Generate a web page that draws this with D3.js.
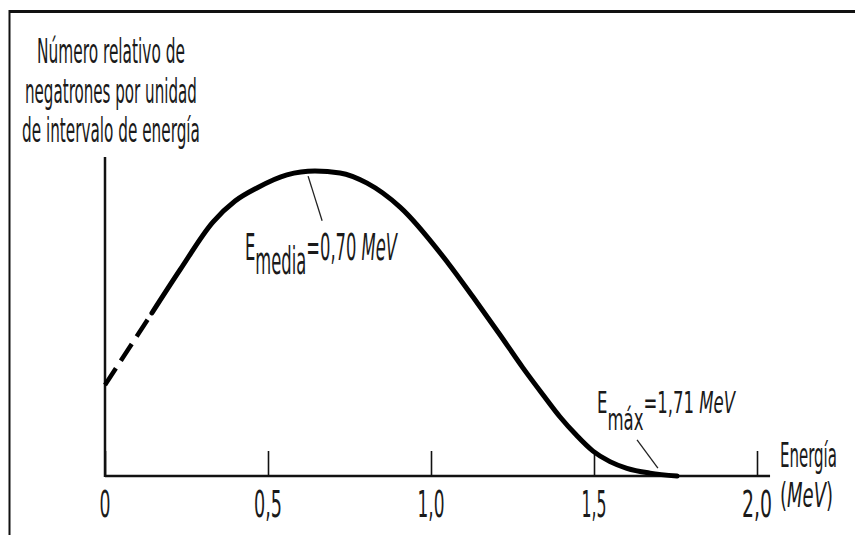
<!DOCTYPE html>
<html>
<head>
<meta charset="utf-8">
<script src="https://cdn.jsdelivr.net/npm/d3@7"></script>
<style>
  html, body { margin: 0; padding: 0; background: #fff; }
  svg { display: block; }
  text { font-family: 'DejaVu Sans Condensed', 'DejaVu Sans', sans-serif; fill: #1a1a1a; }
</style>
</head>
<body>
<div id="chart"></div>
<script>
// Beta spectrum (negatrons): energy in MeV vs relative number per unit energy
const energy   = [0, 0.144, 0.230, 0.331, 0.399, 0.466, 0.558, 0.644, 0.721, 0.804, 0.905, 1.052, 1.129, 1.212, 1.282, 1.344, 1.396, 1.445, 1.497, 1.549, 1.601, 1.672, 1.755];
const relCount = [0.285, 0.511, 0.646, 0.796, 0.862, 0.903, 0.944, 0.956, 0.950, 0.918, 0.843, 0.668, 0.561, 0.442, 0.339, 0.254, 0.185, 0.129, 0.078, 0.045, 0.024, 0.009, 0.0];
const dashedUntil = 0.144;   // low-energy part drawn dashed

const tickValues = [0, 0.5, 1.0, 1.5, 2.0];
const tickLabels = ['0', '0,5', '1,0', '1,5', '2,0'];
const titleLines = ['Número relativo de', 'negatrones por unidad', 'de intervalo de energía'];

const width = 855, height = 535;

const svg = d3.select('#chart')
    .append('svg')
    .attr('width', width)
    .attr('height', height);

// frame (top and left edges visible)
svg.append('line').attr('x1', 9).attr('y1', 11.5).attr('x2', width).attr('y2', 11.5)
    .attr('stroke', '#111').attr('stroke-width', 3);
svg.append('line').attr('x1', 9.5).attr('y1', 10).attr('x2', 9.5).attr('y2', height)
    .attr('stroke', '#111').attr('stroke-width', 2);

const x = d3.scaleLinear().domain([0, 2]).range([105, 757]);
const y = d3.scaleLinear().domain([0, 1]).range([476, 157]);

// helper: text squeezed horizontally to a measured width (condensed look)
// parts: array of [string, {dy, italic}]
function label(px, py, parts, w, size, anchor = 'start') {
    if (typeof parts === 'string') parts = [[parts, {}]];
    const t = svg.append('text')
        .attr('font-size', size)
        .attr('x', 0).attr('y', 0);
    parts.forEach(([s, o]) => {
        const ts = t.append('tspan').text(s);
        if (o.dy) ts.attr('dy', o.dy);
        if (o.italic) ts.attr('font-style', 'italic');
    });
    const len = t.node().getComputedTextLength();
    const sx = w / len;
    const left = anchor === 'middle' ? px - w / 2 : px;
    t.attr('transform', `translate(${left},${py}) scale(${sx},1)`);
    return t;
}

// x axis: ticks pointing up
const xAxis = d3.axisBottom(x)
    .tickValues(tickValues)
    .tickSizeInner(-25)
    .tickSizeOuter(0)
    .tickFormat('');
const gx = svg.append('g').attr('transform', `translate(0,${y(0)})`).call(xAxis);
gx.select('.domain').remove();
gx.selectAll('.tick line').attr('stroke', '#111').attr('stroke-width', 1.6);

svg.append('line')
    .attr('x1', x(0)).attr('x2', x(2.04))
    .attr('y1', y(0)).attr('y2', y(0))
    .attr('stroke', '#111').attr('stroke-width', 2.5);

// y axis: plain line
svg.append('line')
    .attr('x1', x(0)).attr('x2', x(0))
    .attr('y1', y(0) + 1).attr('y2', y(1))
    .attr('stroke', '#111').attr('stroke-width', 2.5);

// tick labels
const labelWidths = [11, 28, 27, 25, 30];
tickValues.forEach((v, i) => {
    label(x(v), 517, tickLabels[i], labelWidths[i], 37, 'middle');
});

// y title
const titleWidths = [148, 172, 178];
titleLines.forEach((s, i) => {
    label(111, 63 + i * 39.5, s, titleWidths[i], 34, 'middle');
});

// x title
label(780, 467, 'Energía', 57, 34);
label(780, 507, [['(', {}], ['MeV', { italic: true }], [')', {}]], 53, 34);

// curve
const pts = energy.map((e, i) => [e, relCount[i]]);
const line = d3.line()
    .x(d => x(d[0]))
    .y(d => y(d[1]))
    .curve(d3.curveMonotoneX);

svg.append('path')
    .datum(pts.filter(d => d[0] <= dashedUntil))
    .attr('d', line)
    .attr('fill', 'none')
    .attr('stroke', '#000')
    .attr('stroke-width', 4.5)
    .attr('stroke-dasharray', '20 9');

svg.append('path')
    .datum(pts.filter(d => d[0] >= dashedUntil))
    .attr('d', line)
    .attr('fill', 'none')
    .attr('stroke', '#000')
    .attr('stroke-width', 5)
    .attr('stroke-linecap', 'round');

// annotations
const leaders = [
    [[0.623, 0.94], [0.666, 0.80]],
    [[1.632, 0.113], [1.696, 0.025]]
];
leaders.forEach(l => {
    svg.append('line')
        .attr('x1', x(l[0][0])).attr('y1', y(l[0][1]))
        .attr('x2', x(l[1][0])).attr('y2', y(l[1][1]))
        .attr('stroke', '#222').attr('stroke-width', 1.3);
});

// E_media = 0,70 MeV
label(245, 260, [['E', {}], ['media', { dy: 14 }], ['=0,70 ', { dy: -14 }], ['MeV', { italic: true }]], 152, 37);

// E_max = 1,71 MeV
label(597, 413, [['E', {}], ['máx', { dy: 17 }], ['=1,71 ', { dy: -17 }], ['MeV', { italic: true }]], 138, 31);
</script>
</body>
</html>
